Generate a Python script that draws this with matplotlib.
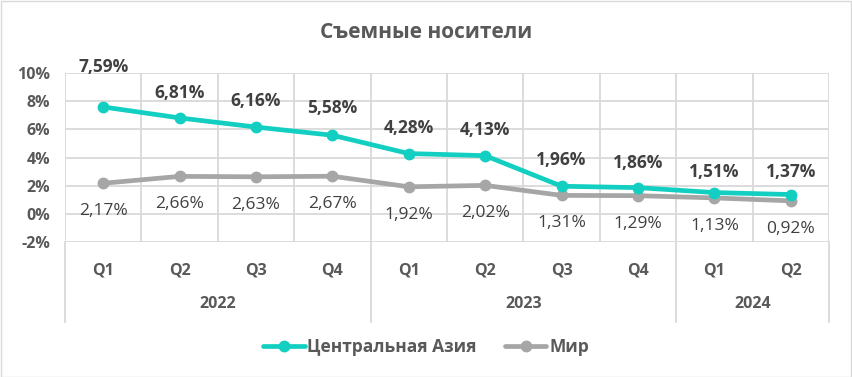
import matplotlib
matplotlib.use("Agg")
import matplotlib.pyplot as plt
import matplotlib.transforms as mtransforms
from matplotlib.patches import Rectangle

plt.rcParams['font.family'] = ['Open Sans', 'DejaVu Sans']

title = "Съемные носители"
quarters = ["Q1", "Q2", "Q3", "Q4", "Q1", "Q2", "Q3", "Q4", "Q1", "Q2"]
years = ["2022", "2023", "2024"]
year_sizes = [4, 4, 2]
central_asia = [7.59, 6.81, 6.16, 5.58, 4.28, 4.13, 1.96, 1.86, 1.51, 1.37]
world = [2.17, 2.66, 2.63, 2.67, 1.92, 2.02, 1.31, 1.29, 1.13, 0.92]
series_names = ["Центральная Азия", "Мир"]
yticks = [-2, 0, 2, 4, 6, 8, 10]

teal = "#13CFC2"
grey = "#A6A6A6"
grid_c = "#D9D9D9"
text_c = "#595959"
label_c = "#404040"

W, H = 852, 377
fig = plt.figure(figsize=(W / 100, H / 100), dpi=100)
fig.patches.append(Rectangle((0.5 / W, 0.5 / H), 1 - 1.5 / W, 1 - 1.5 / H, transform=fig.transFigure,
                             fill=False, edgecolor="#D9D9D9", linewidth=1.0))

left, right, top, bottom = 65, 829, 73, 242
ax = fig.add_axes([left / W, 1 - bottom / H, (right - left) / W, (bottom - top) / H])
n = len(quarters)
x = list(range(n))
ax.set_xlim(-0.5, n - 0.5)
ax.set_ylim(-2, 10)
for s in ax.spines.values():
    s.set_visible(False)

ax.set_yticks(yticks, [f"{v}%" for v in yticks])
ax.tick_params(axis='y', length=0, pad=10.5, labelsize=11.5, labelcolor=text_c)
for t in ax.get_yticklabels():
    t.set_fontweight('bold')
ax.set_xticks(x, quarters)
ax.tick_params(axis='x', length=0, pad=15, labelsize=11.5, labelcolor=text_c)
for t in ax.get_xticklabels():
    t.set_fontweight('bold')

for v in yticks:
    ax.axhline(v, color=grid_c, lw=1.3, zorder=0)
for b in range(n + 1):
    ax.axvline(b - 0.5, color=grid_c, lw=1.3, zorder=0)

trans = mtransforms.blended_transform_factory(ax.transData, ax.transAxes)
ext = -(322 - bottom) / (bottom - top)
ydiv = -(304 - bottom) / (bottom - top)
start = 0
bounds = [-0.5]
for yl, sz in zip(years, year_sizes):
    center = start + (sz - 1) / 2
    ax.text(center, ydiv, yl, transform=trans, ha='center', va='center', fontsize=11.5,
            fontweight='bold', color=text_c)
    start += sz
    bounds.append(start - 0.5)
for b in bounds:
    ax.plot([b, b], [0, ext], transform=trans, color=grid_c, lw=1.3, clip_on=False, zorder=0)

ax.plot(x, central_asia, color=teal, lw=3.4, marker='o', markersize=7.5, label=series_names[0],
        solid_capstyle='round', zorder=3)
ax.plot(x, world, color=grey, lw=3.4, marker='o', markersize=7.5, label=series_names[1],
        solid_capstyle='round', zorder=2)

ca_offsets = [40, 25, 26, 27, 26, 26, 26, 25, 21, 23]
for xi, v, off in zip(x, central_asia, ca_offsets):
    ax.annotate(f"{v:.2f}%".replace('.', ','), (xi, v), xytext=(0, off), textcoords='offset pixels',
                ha='center', va='center', fontsize=12.5, fontweight='bold', color=label_c, zorder=5)
for xi, v in zip(x, world):
    ax.annotate(f"{v:.2f}%".replace('.', ','), (xi, v), xytext=(0, -28), textcoords='offset pixels',
                ha='center', va='center', fontsize=12.5, color=label_c, zorder=5)

fig.text(0.5, 1 - 33 / H, title, ha='center', va='center', fontsize=15, fontweight='bold', color=text_c)

leg = fig.legend(loc='center', bbox_to_anchor=(0.5, 1 - 347 / H), ncol=2, frameon=False,
                 fontsize=12.5, handlelength=2.4, handletextpad=0.15, columnspacing=1.6)
for t in leg.get_texts():
    t.set_color(text_c)
    t.set_fontweight('bold')

fig.savefig("out.png", dpi=100)
